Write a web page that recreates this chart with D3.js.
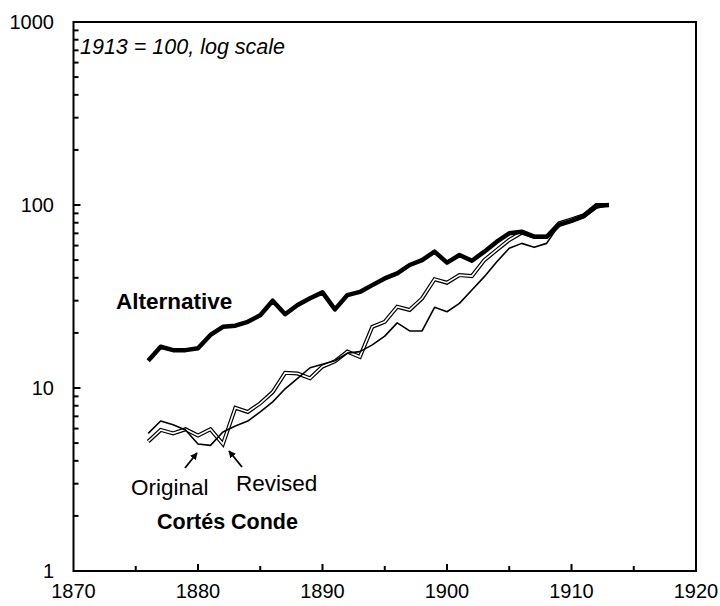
<!DOCTYPE html>
<html>
<head>
<meta charset="utf-8">
<script src="https://cdnjs.cloudflare.com/ajax/libs/d3/7.8.5/d3.min.js"></script>
<style>
  body { margin: 0; background: #fff; }
  svg text { font-family: "Liberation Sans", Arial, sans-serif; fill: #000; }
</style>
</head>
<body>
<div id="chart"></div>
<script>
// index, 1913 = 100
var years = d3.range(1876, 1914);

var alternative = [14.1, 16.8, 16.1, 16.1, 16.5, 19.5, 21.6, 21.9, 23.0, 25.0,
                   30.0, 25.3, 28.4, 30.9, 33.3, 26.9, 32.2, 33.5, 36.5, 39.7,
                   42.3, 47.0, 50.0, 55.6, 48.4, 53.3, 49.6, 55.6, 63.0, 70.0,
                   71.5, 67.1, 67.0, 77.8, 82.0, 87.0, 98.8, 100];

var original = [5.65, 6.6, 6.3, 5.9, 4.94, 4.86, 5.75, 6.2, 6.6, 7.4,
                8.4, 9.9, 11.3, 12.9, 13.5, 14.1, 15.5, 15.8, 17.2, 19.2,
                22.7, 20.5, 20.5, 27.6, 26.1, 29.0, 34.3, 40.6, 49.0, 58.0,
                61.7, 58.7, 61.7, 77.8, 81.0, 85.7, 96.0, 100];

var revised = [5.1, 5.9, 5.65, 5.95, 5.5, 5.95, 4.94, 7.8, 7.4, 8.25,
               9.5, 12.1, 12.0, 11.3, 13.1, 14.0, 15.8, 14.8, 21.6, 23.0,
               27.8, 26.7, 30.9, 39.3, 37.6, 41.4, 40.9, 50.0, 56.8, 64.4,
               70.6, 67.0, 67.0, 79.4, 83.5, 88.0, 100, 100];

var xTicks = [1870, 1880, 1890, 1900, 1910, 1920];
var yTicks = [1, 10, 100, 1000];

var width = 720, height = 606;
var margin = {top: 22, right: 24, bottom: 35, left: 73.5};

var svg = d3.select('#chart').append('svg')
    .attr('width', width)
    .attr('height', height);

var x = d3.scaleLinear().domain([1870, 1920]).range([margin.left, width - margin.right]);
var y = d3.scaleLog().domain([1, 1000]).range([height - margin.bottom, margin.top]);

var x0 = x.range()[0], x1 = x.range()[1], y0 = y.range()[0], y1 = y.range()[1];

// ticks, pointing inward
var minorY = [];
[1, 10, 100].forEach(function(d){
    d3.range(2, 10).forEach(function(k){ minorY.push(d * k); });
});
svg.append('g').selectAll('line')
    .data(yTicks.map(function(d){ return {v: d, len: 7}; })
        .concat(minorY.map(function(d){ return {v: d, len: 5}; })))
    .enter().append('line')
    .attr('x1', x0).attr('x2', function(d){ return x0 + d.len; })
    .attr('y1', function(d){ return y(d.v); })
    .attr('y2', function(d){ return y(d.v); })
    .attr('stroke', '#000').attr('stroke-width', 2);

svg.append('g').selectAll('line')
    .data(d3.range(1875, 1920, 5))
    .enter().append('line')
    .attr('x1', function(d){ return x(d); })
    .attr('x2', function(d){ return x(d); })
    .attr('y1', y0)
    .attr('y2', function(d){ return y0 - (d % 10 === 0 ? 7 : 5); })
    .attr('stroke', '#000').attr('stroke-width', 2);

// frame
svg.append('rect')
    .attr('x', x0).attr('y', y1)
    .attr('width', x1 - x0).attr('height', y0 - y1)
    .attr('fill', 'none').attr('stroke', '#000').attr('stroke-width', 2);

// tick labels
svg.append('g').selectAll('text')
    .data(yTicks).enter().append('text')
    .attr('x', 54)
    .attr('y', function(d){ return y(d); })
    .attr('dy', '0.36em')
    .attr('text-anchor', 'end')
    .style('font-size', '20px')
    .text(function(d){ return d; });

svg.append('g').selectAll('text')
    .data(xTicks).enter().append('text')
    .attr('x', function(d){ return x(d); })
    .attr('y', 598)
    .attr('text-anchor', 'middle')
    .style('font-size', '20px')
    .text(function(d){ return d; });

// series
var line = d3.line()
    .x(function(d){ return x(d[0]); })
    .y(function(d){ return y(d[1]); });

function pairs(vals){ return years.map(function(yr, i){ return [yr, vals[i]]; }); }

// revised: hollow double line
svg.append('path').datum(pairs(revised))
    .attr('d', line).attr('fill', 'none')
    .attr('stroke', '#000').attr('stroke-width', 4)
    .attr('stroke-linejoin', 'miter');
svg.append('path').datum(pairs(revised))
    .attr('d', line).attr('fill', 'none')
    .attr('stroke', '#fff').attr('stroke-width', 1.6)
    .attr('stroke-linejoin', 'miter');

// original: thin line
svg.append('path').datum(pairs(original))
    .attr('d', line).attr('fill', 'none')
    .attr('stroke', '#000').attr('stroke-width', 1.6)
    .attr('stroke-linejoin', 'round');

// alternative: thick line
svg.append('path').datum(pairs(alternative))
    .attr('d', line).attr('fill', 'none')
    .attr('stroke', '#000').attr('stroke-width', 4.5)
    .attr('stroke-linejoin', 'round');

// annotations
svg.append('text')
    .attr('x', 80).attr('y', 54)
    .style('font-size', '21.5px').style('font-style', 'italic')
    .text('1913 = 100, log scale');

svg.append('text')
    .attr('x', 116).attr('y', 309)
    .style('font-size', '22.5px').style('font-weight', 'bold')
    .text('Alternative');

svg.append('text')
    .attr('x', 131).attr('y', 495)
    .style('font-size', '22.5px')
    .text('Original');

svg.append('text')
    .attr('x', 236).attr('y', 491)
    .style('font-size', '22.5px')
    .text('Revised');

svg.append('text')
    .attr('x', 157).attr('y', 529)
    .style('font-size', '21.5px').style('font-weight', 'bold')
    .text('Cortés Conde');

// arrows
svg.append('defs').append('marker')
    .attr('id', 'head')
    .attr('viewBox', '0 0 10 10')
    .attr('refX', 9).attr('refY', 5)
    .attr('markerWidth', 4).attr('markerHeight', 4)
    .attr('orient', 'auto')
    .append('path').attr('d', 'M0,0L10,5L0,10Z').attr('fill', '#000');

[[185, 468, 197, 453], [242, 467, 229, 451]].forEach(function(a){
    svg.append('line')
        .attr('x1', a[0]).attr('y1', a[1])
        .attr('x2', a[2]).attr('y2', a[3])
        .attr('stroke', '#000').attr('stroke-width', 1.8)
        .attr('marker-end', 'url(#head)');
});
</script>
</body>
</html>
